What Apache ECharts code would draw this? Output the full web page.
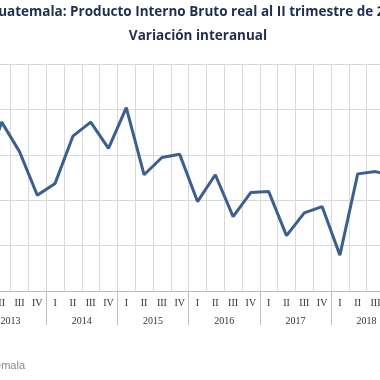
<!DOCTYPE html>
<html>
<head>
<meta charset="utf-8">
<script src="https://cdn.jsdelivr.net/npm/echarts@6/dist/echarts.min.js"></script>
<style>
html,body{margin:0;padding:0;width:380px;height:380px;overflow:hidden;background:#fff;}
#chart{position:absolute;left:-100px;top:0;width:600px;height:380px;}
</style>
</head>
<body>
<div id="chart"></div>
<script>
const titleLine1 = 'Guatemala: Producto Interno Bruto real al II trimestre de 2018';
const titleLine2 = 'Variación interanual';
const sourceText = 'Fuente: Banco de Guatemala';
const years = ['2013', '2014', '2015', '2016', '2017', '2018'];
const quarters = ['I', 'II', 'III', 'IV'];
const categories = [];
years.forEach(y => quarters.forEach(q => categories.push(y + '-' + q)));
const gdpGrowth = [3.58, 4.72, 4.07, 3.11, 3.37, 4.41, 4.72, 4.14, 5.04, 3.56, 3.94, 4.01,
                   2.97, 3.56, 2.64, 3.17, 3.19, 2.22, 2.72, 2.86, 1.79, 3.58, 3.63, 3.53];

const chart = echarts.init(document.getElementById('chart'), null, {renderer: 'canvas'});
const gridColor = '#d9d9d9';
const axisColor = '#bfbfbf';
const titleFont = {fontFamily: 'Open Sans', fontWeight: 'bold', fontSize: 13.5, fill: '#1f2d4e', textAlign: 'center', textVerticalAlign: 'middle'};
chart.setOption({
  animation: false,
  backgroundColor: '#fff',
  graphic: [
    {type: 'text', x: 298, y: 12.5, style: Object.assign({text: titleLine1}, titleFont)},
    {type: 'text', x: 298, y: 36, style: Object.assign({text: titleLine2}, titleFont)},
    {type: 'text', x: 125, y: 366, style: {text: sourceText, fontFamily: 'Liberation Sans', fontSize: 11, fill: '#8a8a8a', textAlign: 'right', textVerticalAlign: 'middle'}}
  ],
  grid: {left: 75, right: 97.8, top: 64, bottom: 89, containLabel: false},
  xAxis: [
    {
      type: 'category', data: categories, position: 'bottom', boundaryGap: true,
      axisLine: {show: true, lineStyle: {color: axisColor, width: 1}},
      axisTick: {show: false},
      splitLine: {show: true, interval: 0, lineStyle: {color: gridColor, width: 1}},
      axisLabel: {interval: 0, margin: 7, fontFamily: 'Liberation Serif', fontSize: 10, color: '#333',
        formatter: v => v.split('-')[1]}
    },
    {
      type: 'category', data: years, position: 'bottom', boundaryGap: true,
      axisLine: {show: false},
      axisTick: {show: true, length: 34, lineStyle: {color: axisColor, width: 1}},
      splitLine: {show: false},
      axisLabel: {interval: 0, margin: 25, fontFamily: 'Liberation Serif', fontSize: 10, color: '#333'}
    }
  ],
  yAxis: {
    type: 'value', min: 1, max: 6, interval: 1,
    axisLine: {show: false}, axisTick: {show: false}, axisLabel: {show: false},
    splitLine: {show: true, lineStyle: {color: gridColor, width: 1}}
  },
  series: [{
    type: 'line', xAxisIndex: 0, data: gdpGrowth, symbol: 'none', smooth: false,
    lineStyle: {color: '#3b5f8e', width: 3}
  }]
});
</script>
</body>
</html>
